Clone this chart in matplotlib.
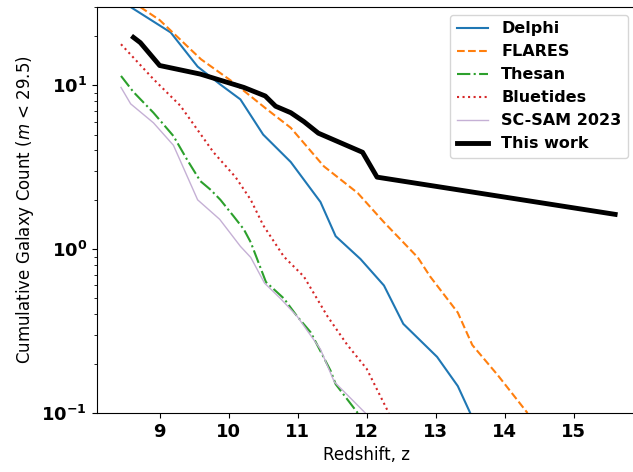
import matplotlib
matplotlib.use('Agg')
import matplotlib.pyplot as plt
import numpy as np

# redshift / cumulative count
delphi_z = [8.58, 9.16, 9.55, 9.88, 10.17, 10.5, 10.9, 11.33, 11.55, 11.91, 12.25, 12.53, 13.02, 13.32, 13.5]
delphi_n = [30.0, 21.0, 13.0, 10.1, 8.2, 5.0, 3.4, 1.94, 1.2, 0.87, 0.6, 0.35, 0.22, 0.146, 0.1]

flares_z = [8.72, 9.0, 9.6, 10.07, 10.56, 10.9, 11.38, 11.87, 12.25, 12.74, 12.92, 13.32, 13.53, 13.9, 14.33]
flares_n = [30.0, 25.0, 14.4, 10.4, 7.1, 5.5, 3.2, 2.2, 1.46, 0.89, 0.68, 0.41, 0.26, 0.17, 0.1]

thesan_z = [8.44, 8.62, 8.91, 9.2, 9.4, 9.59, 9.74, 9.88, 10.07, 10.22, 10.32, 10.54,
            10.8, 10.99, 11.19, 11.48, 11.55, 11.87]
thesan_n = [11.4, 9.1, 6.8, 4.9, 3.5, 2.6, 2.3, 2.0, 1.59, 1.32, 1.1, 0.63,
            0.5, 0.39, 0.31, 0.18, 0.15, 0.1]

bluetides_z = [8.44, 8.91, 9.3, 9.78, 10.1, 10.32, 10.5, 10.8, 11.09, 11.43, 11.72, 12.0, 12.32]
bluetides_n = [17.8, 10.9, 7.5, 3.9, 2.75, 2.0, 1.4, 0.9, 0.68, 0.39, 0.26, 0.186, 0.1]

scsam_z = [8.44, 8.58, 8.91, 9.2, 9.55, 9.87, 10.17, 10.32, 10.52, 10.75, 10.99, 11.33, 11.53, 11.98]
scsam_n = [9.7, 7.7, 5.9, 4.3, 2.0, 1.52, 1.04, 0.89, 0.62, 0.5, 0.39, 0.245, 0.155, 0.1]

work_z = [8.62, 8.72, 9.0, 9.59, 10.22, 10.53, 10.68, 10.9, 11.09, 11.3, 11.94, 12.15, 15.6]
work_n = [19.6, 18.2, 13.2, 11.7, 9.7, 8.6, 7.45, 6.8, 6.0, 5.1, 3.9, 2.75, 1.63]

fig = plt.figure(figsize=(6.33, 4.72), dpi=100)
# the right spine sits just past the image edge in the reference
ax = fig.add_axes([0.153, 0.125, 0.8515, 0.86])

ax.plot(delphi_z, delphi_n, color='#1f77b4', lw=1.5, ls='-', label='Delphi')
ax.plot(flares_z, flares_n, color='#ff7f0e', lw=1.5, ls='--', label='FLARES')
ax.plot(thesan_z, thesan_n, color='#2ca02c', lw=1.5, ls='-.', label='Thesan')
ax.plot(bluetides_z, bluetides_n, color='#d62728', lw=1.5, ls=':', label='Bluetides')
ax.plot(scsam_z, scsam_n, color='#c5b0d5', lw=1.0, ls='-', label='SC-SAM 2023')
ax.plot(work_z, work_n, color='black', lw=3.5, ls='-', label='This work')

ax.set_yscale('log')
ax.set_xlim(8.09, 15.9)
ax.set_ylim(0.1, 30)
ax.set_xticks([9, 10, 11, 12, 13, 14, 15])

for lab in ax.get_xticklabels() + ax.get_yticklabels():
    lab.set_fontweight('bold')
ax.tick_params(axis='both', which='major', labelsize=13)

ax.set_xlabel('Redshift, z', fontsize=12)
ax.set_ylabel('Cumulative Galaxy Count ($m$ < 29.5)', fontsize=12)

ax.legend(loc='upper right', prop={'weight': 'bold', 'size': 11.5})

fig.savefig('out.png', dpi=100)
